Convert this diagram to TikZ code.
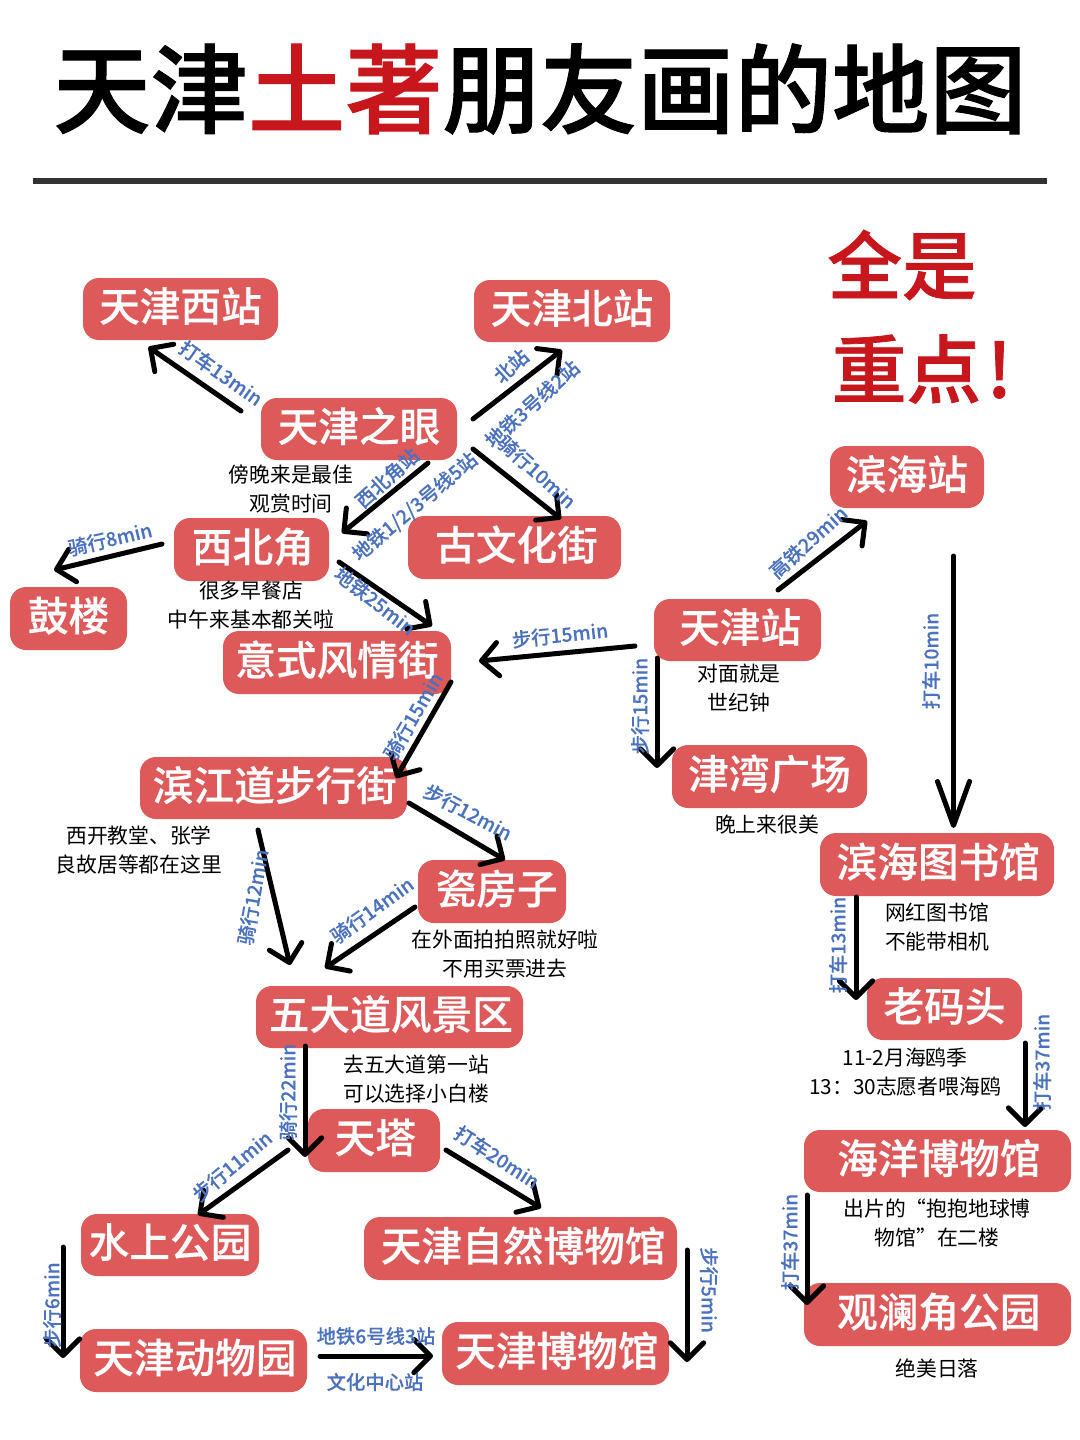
\documentclass[tikz,border=0pt]{standalone}
\usepackage{fontspec}
\setmainfont{Noto Sans CJK SC}
\newfontfamily\midfont[FakeBold=0.3]{Noto Sans CJK SC Medium}
\newfontfamily\labfont[FakeBold=0.15]{Noto Sans CJK SC Medium}
\newfontfamily\bigfont[FakeBold=1]{Noto Sans CJK SC Medium}
\usetikzlibrary{arrows.meta}
\definecolor{boxred}{HTML}{DE5A5A}
\definecolor{titlered}{HTML}{C8161D}
\definecolor{labelblue}{HTML}{4A72BE}
\definecolor{rulegrey}{HTML}{333333}
\tikzset{
  place/.style={fill=boxred,rounded corners=12pt,inner sep=0pt,text=white,font=\fontsize{30.5pt}{34pt}\selectfont\midfont},
  arr/.style={draw=black,line width=3.75pt,line cap=round,line join=round,-{Straight Barb[length=12.5pt,width=25pt,line width=3.75pt,round]}},
  longarr/.style={arr,-{Straight Barb[length=33pt,width=24pt,line width=3.75pt,round]}},
  lab/.style={text=labelblue,font=\fontsize{14.5pt}{18pt}\selectfont\labfont,inner sep=0pt},
  note/.style={text=black,font=\fontsize{15.6pt}{21.75pt}\selectfont,align=center,inner sep=0pt},
}
\newcommand{\placebox}[6]{% name x1 y1 x2 y2 text
  \node[place,minimum width={(#4-#2)*0.75pt},minimum height={(#5-#3)*0.75pt}] (#1) at ({(#2+#4)/2},{(#3+#5)/2}) {\raisebox{7pt}{#6}};}
\newcommand{\conn}[7][arr]{% style from dx dy to dx dy
  \draw[#1] ([shift={(#3,#4)}]#2.center) -- ([shift={(#6,#7)}]#5.center);}
\begin{document}
\begin{tikzpicture}[x=0.75pt,y=-0.75pt]
\useasboundingbox (0,0) rectangle (1080,1440);
\fill[white] (0,0) rectangle (1080,1440);
\node[inner sep=0pt,font=\fontsize{73pt}{80pt}\selectfont\bigfont] (title) at (540,89) {天津\textcolor{titlered}{土著}朋友画的地图};
\coordinate (ruleL) at (33,181); \coordinate (ruleR) at (1047,181);
\draw[rulegrey,line width=4.5pt] (ruleL) -- (ruleR);
\node[inner sep=0pt,text=titlered,font=\fontsize{56pt}{60pt}\selectfont\bigfont] (quan) at (902,265) {全是};
\node[inner sep=0pt,text=titlered,font=\fontsize{56pt}{60pt}\selectfont\bigfont] (zhong) at (922,369) {重点\kern4pt!};

\placebox{west}{83}{278}{278}{340}{天津西站}
\placebox{north}{474}{280}{670}{342}{天津北站}
\placebox{eye}{261}{398}{457}{460}{天津之眼}
\placebox{nw}{174}{518}{329}{581}{\hspace*{2pt}西北角}
\placebox{guwen}{408}{516}{621}{579}{\hspace*{3pt}古文化街}
\placebox{gulou}{10}{587}{127}{650}{鼓楼}
\placebox{yishi}{223}{631}{451}{694}{意式风情街}
\placebox{tj}{654}{599}{821}{661}{\hspace*{4pt}天津站}
\placebox{binhai}{830}{446}{984}{508}{滨海站}
\placebox{jinwan}{672}{745}{867}{808}{津湾广场}
\placebox{binjiang}{140}{757}{407}{819}{\hspace*{2pt}滨江道步行街}
\placebox{cifang}{418}{860}{566}{923}{\hspace*{7pt}瓷房子}
\placebox{lib}{820}{833}{1054}{896}{\hspace*{2pt}滨海图书馆}
\placebox{matou}{867}{978}{1022}{1040}{老码头}
\placebox{wuda}{256}{986}{523}{1048}{\hspace*{2pt}五大道风景区}
\placebox{tower}{308}{1109}{440}{1172}{\hspace*{2pt}天塔}
\placebox{ocean}{804}{1130}{1071}{1192}{\hspace*{2pt}海洋博物馆}
\placebox{water}{81}{1214}{259}{1276}{水上公园}
\placebox{natural}{364}{1217}{677}{1280}{\hspace*{4pt}天津自然博物馆}
\placebox{guanlan}{804}{1283}{1071}{1346}{\hspace*{2pt}观澜角公园}
\placebox{zoo}{80}{1329}{307}{1392}{\hspace*{2pt}天津动物园}
\placebox{museum}{442}{1322}{669}{1385}{\hspace*{2pt}天津博物馆}

\conn{eye}{-118}{-18}{west}{-32}{38}
\conn{eye}{114}{-10}{north}{-10}{39}
\conn{eye}{114}{20}{guwen}{46.5}{-28.5}
\conn{eye}{69}{34}{nw}{90.5}{-16.5}
\conn{nw}{-89.5}{-5.5}{gulou}{-14.5}{-48.5}
\conn{nw}{87.5}{12.5}{yishi}{95}{-36.5}
\conn{tj}{-102.5}{16}{yishi}{142}{-1.5}
\conn{yishi}{114}{19.5}{binjiang}{122.5}{-10}
\conn{tj}{-80.5}{28}{jinwan}{-112.5}{-8.5}
\conn{tj}{40.5}{-40}{binhai}{-40}{44}
\conn[longarr]{binhai}{46.5}{79}{lib}{16.5}{-36.5}
\conn{lib}{-81}{32.5}{matou}{-88.5}{-9}
\conn{matou}{80.5}{34}{ocean}{87.5}{-34}
\conn{ocean}{-130.5}{34}{guanlan}{-130.5}{-9.5}
\conn{binjiang}{135.5}{15}{cifang}{13}{-31.5}
\conn{binjiang}{-15.5}{42}{wuda}{-99.5}{-52}
\conn{cifang}{-77}{15.5}{wuda}{-64.5}{-49}
\conn{wuda}{-84.5}{29}{tower}{-69}{16.5}
\conn{tower}{-86}{9.5}{water}{28}{-30}
\conn{tower}{72}{9.5}{natural}{20.5}{-40.5}
\conn{water}{-107}{2}{zoo}{-130.5}{-2.5}
\conn{zoo}{126.5}{-4.5}{museum}{-122.5}{2.5}
\conn{natural}{166.5}{1.5}{museum}{131.5}{8.5}

\node[lab,rotate=-35] (l1) at (221,373) {打车13min};
\node[lab,rotate=42] (l2) at (511,366) {北站};
\node[lab,rotate=42] (l3) at (532,404) {地铁3号线2站};
\node[lab,rotate=-42] (l4) at (537,472) {骑行10min};
\node[lab,rotate=42] (l5) at (387,478) {西北角站};
\node[lab,rotate=40] (l6) at (415,507) {地铁1/2/3号线5站};
\node[lab,rotate=13] (l7) at (110,539) {骑行8min};
\node[lab,rotate=-38] (l8) at (375,601) {地铁25min};
\node[lab,rotate=6] (l9) at (560,635) {步行15min};
\node[lab,rotate=60] (l10) at (413,716) {骑行15min};
\node[lab,rotate=42] (l11) at (808,542) {高铁29min};
\node[lab,rotate=90] (l12) at (931,661) {打车10min};
\node[lab,rotate=90] (l13) at (640,706) {步行15min};
\node[lab,rotate=-28] (l14) at (468,812) {步行12min};
\node[lab,rotate=80] (l15) at (253,897) {骑行12min};
\node[lab,rotate=36] (l16) at (372,910) {骑行14min};
\node[lab,rotate=90] (l17) at (838,945) {打车13min};
\node[lab,rotate=90] (l18) at (1042,1062) {打车37min};
\node[lab,rotate=90] (l19) at (288,1092) {骑行22min};
\node[lab,rotate=40] (l20) at (232,1166) {步行11min};
\node[lab,rotate=-33] (l21) at (497,1157) {打车20min};
\node[lab,rotate=90] (l22) at (790,1242) {打车37min};
\node[lab,rotate=90] (l23) at (52,1305) {步行6min};
\node[lab] (l24) at (376,1336) {地铁6号线3站};
\node[lab] (l25) at (375,1382) {文化中心站};
\node[lab,rotate=-90] (l26) at (709,1290) {步行5min};

\node[note] (n1) at (291,489) {傍晚来是最佳\\观赏时间};
\node[note] (n2) at (251,605) {很多早餐店\\中午来基本都关啦};
\node[note] (n3) at (739,688) {对面就是\\世纪钟};
\node[note] (n4) at (767,824.5) {晚上来很美};
\node[note] (n5) at (139,850) {西开教堂、张学\\良故居等都在这里};
\node[note] (n6) at (937,927) {网红图书馆\\不能带相机};
\node[note] (n7) at (505,954) {在外面拍拍照就好啦\\不用买票进去};
\node[note] (n8) at (905,1072) {11-2月海鸥季\\13：30志愿者喂海鸥};
\node[note] (n9) at (416,1079) {去五大道第一站\\可以选择小白楼};
\node[note] (n10) at (937,1223) {出片的“抱抱地球博\\物馆”在二楼};
\node[note] (n11) at (937,1368.5) {绝美日落};
\end{tikzpicture}
\end{document}
